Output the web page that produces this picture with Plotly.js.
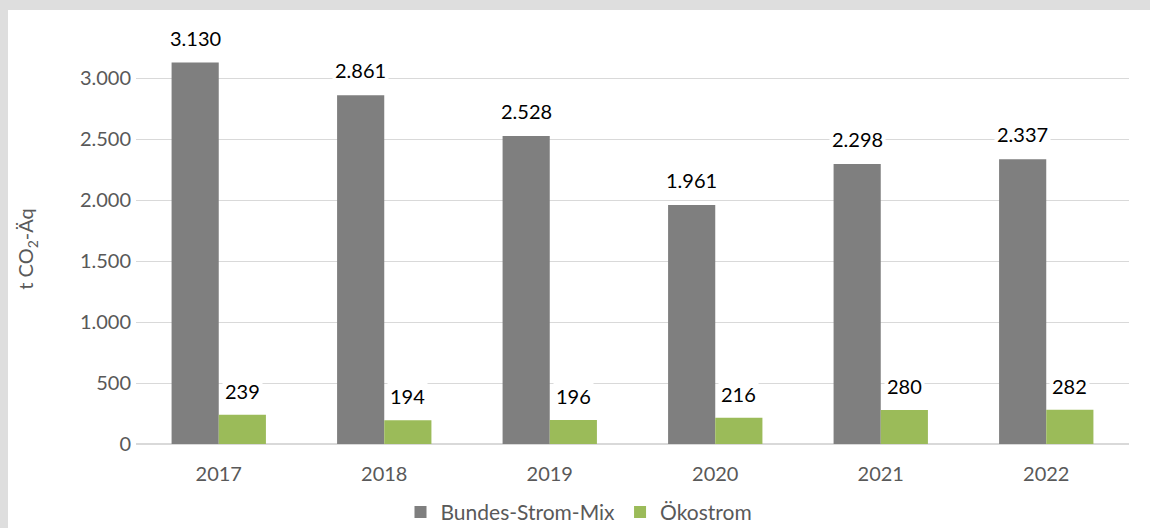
<!DOCTYPE html>
<html><head><meta charset="utf-8">
<script src="https://cdn.plot.ly/plotly-3.0.1.min.js"></script>
<style>
html,body{margin:0;padding:0;background:#dedede;width:1150px;height:528px;overflow:hidden;}
#chart{position:absolute;left:8px;top:10px;width:1142px;height:518px;background:#fff;}
</style></head>
<body><div id="chart"></div>
<script>
const years = ['2017','2018','2019','2020','2021','2022'];
const bundesStromMix = [3130, 2861, 2528, 1961, 2298, 2337];
const oekostrom = [239, 194, 196, 216, 280, 282];
const seriesNames = ['Bundes-Strom-Mix', 'Ökostrom'];

function fmtDE(v){ return String(v).replace(/\B(?=(\d{3})+(?!\d))/g, '.'); }

const FONT = 'Lato, "Open Sans", sans-serif';
const grayC = '#7f7f7f', greenC = '#9bbb59';

const traces = [
  {type:'bar', name:seriesNames[0], x:years, y:bundesStromMix, marker:{color:grayC}, hoverinfo:'skip'},
  {type:'bar', name:seriesNames[1], x:years, y:oekostrom, marker:{color:greenC}, hoverinfo:'skip'}
];

const annotations = [];
years.forEach((yr,i)=>{
  annotations.push({x:i, y:bundesStromMix[i], xref:'x', yref:'y', text:fmtDE(bundesStromMix[i]),
    showarrow:false, xshift:-23.5, yshift:25, yanchor:'middle', bgcolor:'#fff', borderpad:2,
    font:{family:FONT, size:20, color:'#000'}});
  annotations.push({x:i, y:oekostrom[i], xref:'x', yref:'y', text:fmtDE(oekostrom[i]),
    showarrow:false, xshift:23.5, yshift:24, yanchor:'middle', bgcolor:'#fff', borderpad:2,
    font:{family:FONT, size:20, color:'#000'}});
});

const layout = {
  width:1142, height:518,
  margin:{l:128, r:21, t:43.6, b:84},
  paper_bgcolor:'#fff', plot_bgcolor:'#fff',
  separators:',.',
  barmode:'group', bargap:0.43, bargroupgap:0,
  font:{family:FONT, size:20, color:'#595959'},
  xaxis:{type:'category', range:[-0.5, years.length-0.5], showgrid:false, showline:false, zeroline:false, ticks:'',
    ticklabelstandoff:16, tickfont:{family:FONT, size:20, color:'#595959'}},
  yaxis:{range:[0,3200], dtick:500, tick0:0, tickformat:',d', showgrid:true, gridcolor:'#d9d9d9', gridwidth:1,
    zeroline:true, zerolinecolor:'#d9d9d9', zerolinewidth:1.5, showline:false, ticks:'', ticklen:0,
    ticklabelstandoff:4, tickfont:{family:FONT, size:20, color:'#595959'},
    title:{text:'t CO<sub>2</sub>-Äq', standoff:40, font:{family:FONT, size:20, color:'#595959'}}},
  showlegend:true,
  legend:{orientation:'h', xref:'container', yref:'container', x:0.5, xanchor:'center', y:0.03, yanchor:'middle',
    font:{family:FONT, size:21, color:'#595959'}, itemwidth:30, traceorder:'normal'},
  annotations:annotations
};
Plotly.newPlot('chart', traces, layout, {displayModeBar:false, staticPlot:true});
</script></body></html>
